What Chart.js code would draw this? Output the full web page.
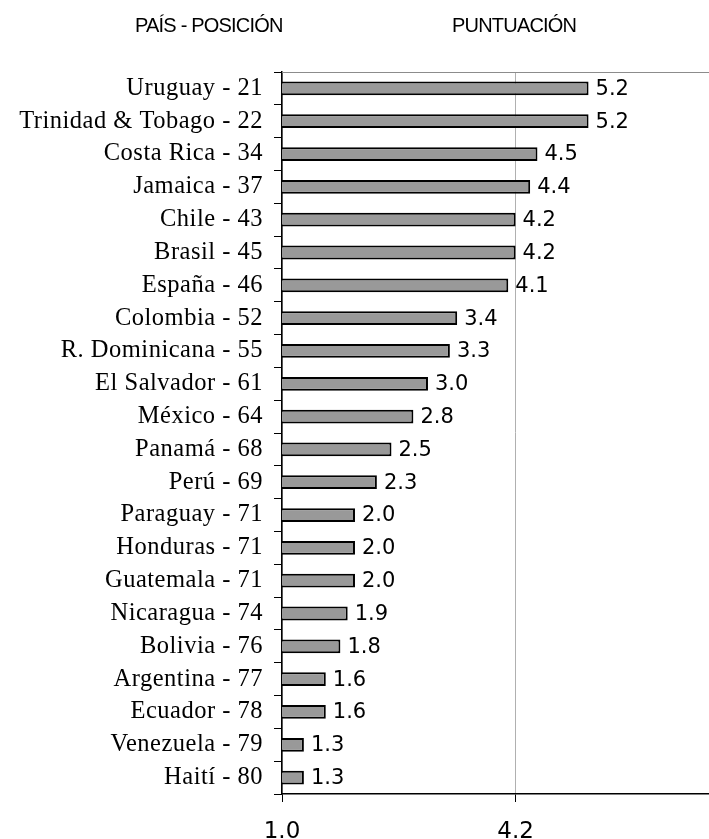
<!DOCTYPE html>
<html><head><meta charset="utf-8">
<script src="https://cdn.jsdelivr.net/npm/chart.js@4"></script>
<style>
html,body{margin:0;padding:0;background:#fff;overflow:hidden;}
#wrap{position:relative;width:709px;height:839px;}
.hdr{position:absolute;top:14px;font-family:"Liberation Sans",Arial,sans-serif;font-size:20px;color:#000;letter-spacing:-0.8px;white-space:nowrap;line-height:23px;}
</style></head>
<body>
<div id="wrap">
<canvas id="c" width="709" height="839"></canvas>
<div class="hdr" id="h1" style="left:135px;">PAÍS - POSICIÓN</div>
<div class="hdr" id="h2" style="left:452px;">PUNTUACIÓN</div>
</div>
<script>
const countries = ["Uruguay - 21","Trinidad & Tobago - 22","Costa Rica - 34","Jamaica - 37","Chile - 43","Brasil - 45","España - 46","Colombia - 52","R. Dominicana - 55","El Salvador - 61","México - 64","Panamá - 68","Perú - 69","Paraguay - 71","Honduras - 71","Guatemala - 71","Nicaragua - 74","Bolivia - 76","Argentina - 77","Ecuador - 78","Venezuela - 79","Haití - 80"];
const scores = [5.2,5.2,4.5,4.4,4.2,4.2,4.1,3.4,3.3,3.0,2.8,2.5,2.3,2.0,2.0,2.0,1.9,1.8,1.6,1.6,1.3,1.3];
const xTicks = [1.0, 4.2];

const extras = {
  id:'extras',
  afterDatasetsDraw(chart){
    const ctx = chart.ctx, ca = chart.chartArea;
    ctx.save();
    ctx.strokeStyle = '#8c8c8c'; ctx.lineWidth = 1;
    ctx.beginPath(); ctx.moveTo(ca.left, ca.top+0.5); ctx.lineTo(ca.right, ca.top+0.5); ctx.stroke();
    const meta = chart.getDatasetMeta(0);
    ctx.font = '21px "DejaVu Sans", Verdana, sans-serif';
    ctx.fillStyle = '#000'; ctx.textBaseline = 'middle'; ctx.textAlign = 'left';
    meta.data.forEach((bar,i)=>{
      ctx.fillText(scores[i].toFixed(1), bar.x + 7, bar.y + 1);
    });
    ctx.restore();
  }
};

new Chart(document.getElementById('c'), {
  type:'bar',
  data:{ labels: countries, datasets:[{ data: scores, backgroundColor:'#999999', borderColor:'#000000', borderWidth:2, borderSkipped:false, barPercentage:0.42, categoryPercentage:1.0 }] },
  options:{
    indexAxis:'y', responsive:false, animation:false,
    layout:{ padding:{ top:72, right:0, bottom:0, left:0 } },
    plugins:{ legend:{display:false}, tooltip:{enabled:false} },
    scales:{
      x:{
        min:1.0, max:6.85,
        afterBuildTicks(axis){ axis.ticks = xTicks.map(v=>({value:v})); },
        afterFit(axis){ axis.height = 45; },
        grid:{ color:'#b0b0b0', lineWidth:1, drawTicks:true, tickLength:8, tickColor:'#000' },
        border:{ color:'#000', width:1.5 },
        ticks:{ padding:16, color:'#000', font:{ family:'"DejaVu Sans", Verdana, sans-serif', size:23 }, callback:(v)=>Number(v).toFixed(1) }
      },
      y:{
        afterFit(axis){
          axis.width = 282;
          if(!axis._lsPatched){
            const orig = axis.drawLabels;
            axis.drawLabels = function(ca){
              const c = this.ctx; const prev = c.letterSpacing;
              c.letterSpacing = '0.5px';
              orig.call(this, ca);
              c.letterSpacing = prev || '0px';
            };
            axis._lsPatched = true;
          }
        },
        grid:{ offset:true, drawOnChartArea:false, drawTicks:true, tickLength:8, tickColor:'#000' },
        border:{ color:'#000', width:1.5 },
        ticks:{ padding:11, color:'#000', font:{ family:'"Liberation Serif","Times New Roman",serif', size:24.5 } }
      }
    }
  },
  plugins:[extras]
});
</script>
</body></html>
